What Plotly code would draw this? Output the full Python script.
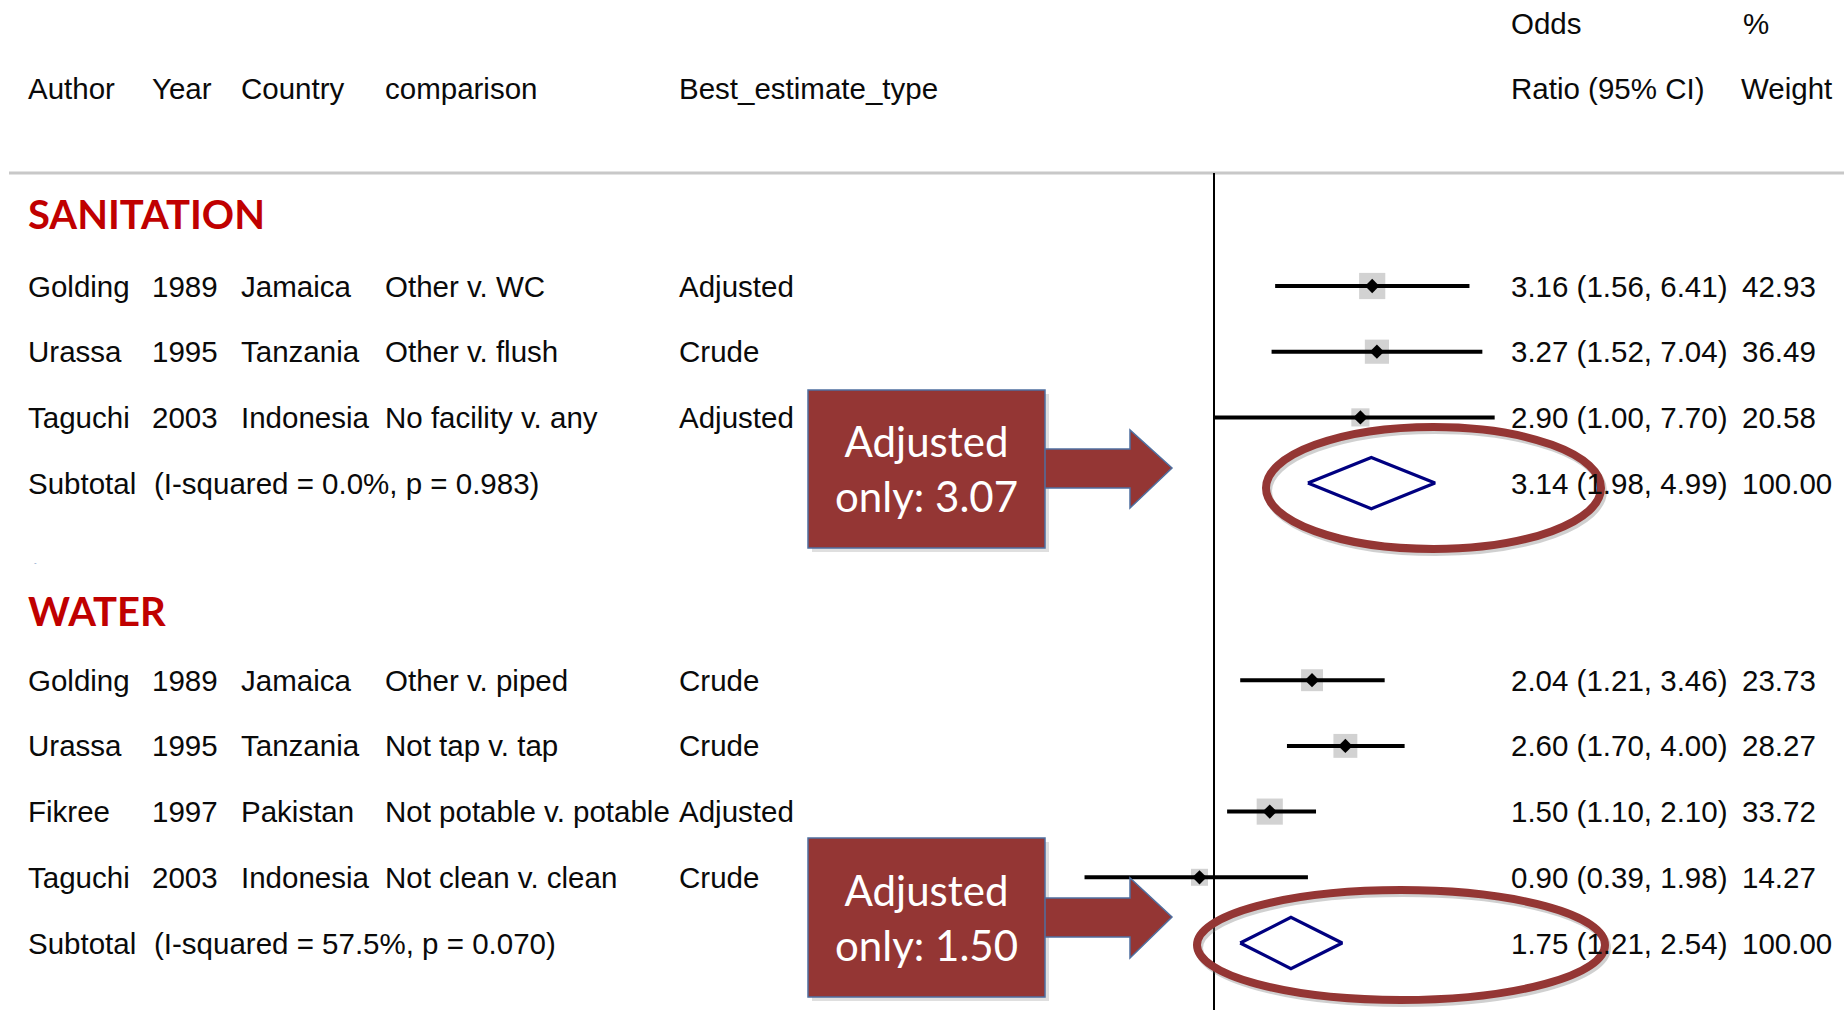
import math
import plotly.graph_objects as go

# ---------------- data ----------------
columns = ["Author", "Year", "Country", "comparison", "Best_estimate_type"]

san_author = ["Golding", "Urassa", "Taguchi"]
san_year = [1989, 1995, 2003]
san_country = ["Jamaica", "Tanzania", "Indonesia"]
san_comparison = ["Other v. WC", "Other v. flush", "No facility v. any"]
san_type = ["Adjusted", "Crude", "Adjusted"]
san_or = [3.16, 3.27, 2.90]
san_lo = [1.56, 1.52, 1.00]
san_hi = [6.41, 7.04, 7.70]
san_weight = [42.93, 36.49, 20.58]
san_sub = [3.14, 1.98, 4.99]
san_sub_stats = ["0.0%", "0.983"]
san_adjusted_only = 3.07

wat_author = ["Golding", "Urassa", "Fikree", "Taguchi"]
wat_year = [1989, 1995, 1997, 2003]
wat_country = ["Jamaica", "Tanzania", "Pakistan", "Indonesia"]
wat_comparison = ["Other v. piped", "Not tap v. tap", "Not potable v. potable", "Not clean v. clean"]
wat_type = ["Crude", "Crude", "Adjusted", "Crude"]
wat_or = [2.04, 2.60, 1.50, 0.90]
wat_lo = [1.21, 1.70, 1.10, 0.39]
wat_hi = [3.46, 4.00, 2.10, 1.98]
wat_weight = [23.73, 28.27, 33.72, 14.27]
wat_sub = [1.75, 1.21, 2.54]
wat_sub_stats = ["57.5%", "0.070"]
wat_adjusted_only = 1.50

# ---------------- layout constants ----------------
W, H = 1844, 1010
Y0, DY = 286.0, 65.7           # pixel of row 0, pixels per row
NULL_PX, PX_PER_LN = 1214.0, 137.5
LN10 = math.log(10)

TXT_FONT = "Liberation Sans, Arial, sans-serif"
HEAD_FONT = "Lato, Open Sans, sans-serif"
TXT_SIZE = 29.5
TXT_COLOR = "#0a0a0a"
RED = "#C00000"
CALLOUT = "#943634"
CALLOUT_EDGE = "#4F6FA0"
ELLIPSE = "#943634"
NAVY = "#000080"

col_px = [26, 150, 239, 383, 677]
or_px = 1509
wt_px = 1740


def px(x):
    return x / W


def py(y):
    return 1 - y / H


fig = go.Figure()
annotations = []
shapes = []


def add_text(x_px, row, text, size=TXT_SIZE, color=TXT_COLOR, family=TXT_FONT, yshift=0, xanchor="left"):
    annotations.append(dict(
        x=px(x_px), xref="paper", y=row, yref="y", text=text, showarrow=False,
        xanchor=xanchor, yanchor="middle", yshift=yshift,
        font=dict(family=family, size=size, color=color),
    ))


# headers
for name, x in zip(columns, col_px):
    add_text(x, -3, name)
add_text(or_px, -4, "Odds")
add_text(or_px, -3, "Ratio (95% CI)")
add_text(1741, -4, "%")
add_text(1739, -3, "Weight")

sections = [
    ("SANITATION", san_author, san_year, san_country, san_comparison, san_type,
     san_or, san_lo, san_hi, san_weight, san_sub, san_sub_stats, 4.0),
    ("WATER", wat_author, wat_year, wat_country, wat_comparison, wat_type,
     wat_or, wat_lo, wat_hi, wat_weight, wat_sub, wat_sub_stats, 4.5),
]

row = -1
diamond_h = 0.39
for (title, authors, years, countries, comps, types, ors, los, his, wts, sub, stats, box_k) in sections:
    add_text(26, row, f"<b>{title}</b>", size=40, color=RED, family=HEAD_FONT, yshift=6 if row < 0 else 4)
    rows = [row + 1 + k for k in range(len(authors))]
    for r, a, yv, c, cp, t, o, lo, hi, w in zip(rows, authors, years, countries, comps, types, ors, los, his, wts):
        for x, val in zip(col_px, [a, yv, c, cp, t]):
            add_text(x, r, str(val))
        add_text(or_px, r, f"{o:.2f} ({lo:.2f}, {hi:.2f})")
        add_text(wt_px, r, f"{w:.2f}")
    # weight boxes
    fig.add_trace(go.Scatter(
        x=ors, y=rows, mode="markers",
        marker=dict(symbol="square", color="#BFBFBF", size=[box_k * math.sqrt(w) for w in wts], line=dict(width=0)),
        hoverinfo="skip", showlegend=False))
    # CI lines
    xs, ys = [], []
    for r, lo, hi in zip(rows, los, his):
        xs += [lo, hi, None]
        ys += [r, r, None]
    fig.add_trace(go.Scatter(x=xs, y=ys, mode="lines", line=dict(color="black", width=4),
                             hoverinfo="skip", showlegend=False))
    # point estimates
    fig.add_trace(go.Scatter(
        x=ors, y=rows, mode="markers",
        marker=dict(symbol="diamond", color="black", size=11, line=dict(width=0)),
        hoverinfo="skip", showlegend=False))
    # subtotal
    sr = rows[-1] + 1
    add_text(26, sr, "Subtotal")
    add_text(152, sr, f"(I-squared = {stats[0]}, p = {stats[1]})")
    add_text(or_px, sr, f"{sub[0]:.2f} ({sub[1]:.2f}, {sub[2]:.2f})")
    add_text(wt_px, sr, f"{100:.2f}")
    fig.add_trace(go.Scatter(
        x=[sub[1], sub[0], sub[2], sub[0], sub[1]],
        y=[sr, sr - diamond_h, sr, sr + diamond_h, sr],
        mode="lines", line=dict(color=NAVY, width=3.2),
        hoverinfo="skip", showlegend=False))
    row = sr + 2

# tiny marker on blank row
annotations.append(dict(x=px(32), xref="paper", y=py(561), yref="paper", text="-",
                        showarrow=False, font=dict(size=8, color="#7090C0")))

# separator line and null line
sep_row = (173 - Y0) / DY
shapes.append(dict(type="line", xref="paper", yref="y", x0=px(9), x1=1, y0=sep_row, y1=sep_row,
                   line=dict(color="#C8C8C8", width=3)))
shapes.append(dict(type="line", xref="x", yref="y", x0=1, x1=1, y0=sep_row, y1=(H - Y0) / DY,
                   line=dict(color="black", width=2)))


# callouts
def callout(box, shaft, head_x, head_y, tip, text):
    x0, y0, x1, y1 = box
    shapes.append(dict(type="rect", xref="paper", yref="paper",
                       x0=px(x0 + 4), x1=px(x1 + 4), y0=py(y0 + 4), y1=py(y1 + 4),
                       fillcolor="#808080", opacity=0.25, line=dict(width=0)))
    path = (f"M{px(x1 - 1)},{py(shaft[0])} L{px(head_x)},{py(shaft[0])} L{px(head_x)},{py(head_y[0])} "
            f"L{px(tip[0])},{py(tip[1])} L{px(head_x)},{py(head_y[1])} L{px(head_x)},{py(shaft[1])} "
            f"L{px(x1 - 1)},{py(shaft[1])} Z")
    shapes.append(dict(type="path", xref="paper", yref="paper", path=path,
                       fillcolor=CALLOUT, line=dict(color=CALLOUT_EDGE, width=1.5)))
    shapes.append(dict(type="rect", xref="paper", yref="paper",
                       x0=px(x0), x1=px(x1), y0=py(y0), y1=py(y1),
                       fillcolor=CALLOUT, line=dict(color=CALLOUT_EDGE, width=1.5)))
    annotations.append(dict(x=px((x0 + x1) / 2), xref="paper", y=py((y0 + y1) / 2), yref="paper",
                            text=text, showarrow=False, align="center", xanchor="center", yanchor="middle",
                            font=dict(family=HEAD_FONT, size=42, color="white")))


callout((808, 390, 1045, 548), (449, 488), 1130, (430, 508), (1172, 468),
        f"Adjusted<br>only: {san_adjusted_only:.2f}")
callout((808, 838, 1045, 997), (898, 937), 1130, (878, 958), (1172, 917),
        f"Adjusted<br>only: {wat_adjusted_only:.2f}")

# ellipses
for (x0, y0, x1, y1) in [(1266, 427, 1601, 549), (1197, 890, 1605, 1000)]:
    shapes.append(dict(type="circle", xref="paper", yref="paper",
                       x0=px(x0 + 2), x1=px(x1 + 2), y0=py(y0 + 3), y1=py(y1 + 3),
                       line=dict(color="rgba(120,120,120,0.35)", width=8)))
    shapes.append(dict(type="circle", xref="paper", yref="paper",
                       x0=px(x0), x1=px(x1), y0=py(y0), y1=py(y1),
                       line=dict(color=ELLIPSE, width=8)))

fig.update_layout(
    width=W, height=H, margin=dict(l=0, r=0, t=0, b=0),
    paper_bgcolor="white", plot_bgcolor="white",
    xaxis=dict(type="log", range=[-NULL_PX / PX_PER_LN / LN10, (W - NULL_PX) / PX_PER_LN / LN10],
               visible=False, domain=[0, 1]),
    yaxis=dict(range=[(H - Y0) / DY, -Y0 / DY], visible=False, domain=[0, 1]),
    annotations=annotations, shapes=shapes, showlegend=False,
)

fig.write_html("out.html", config={"displayModeBar": False},
               post_script="document.body.style.margin='0';document.body.style.overflow='hidden';")
